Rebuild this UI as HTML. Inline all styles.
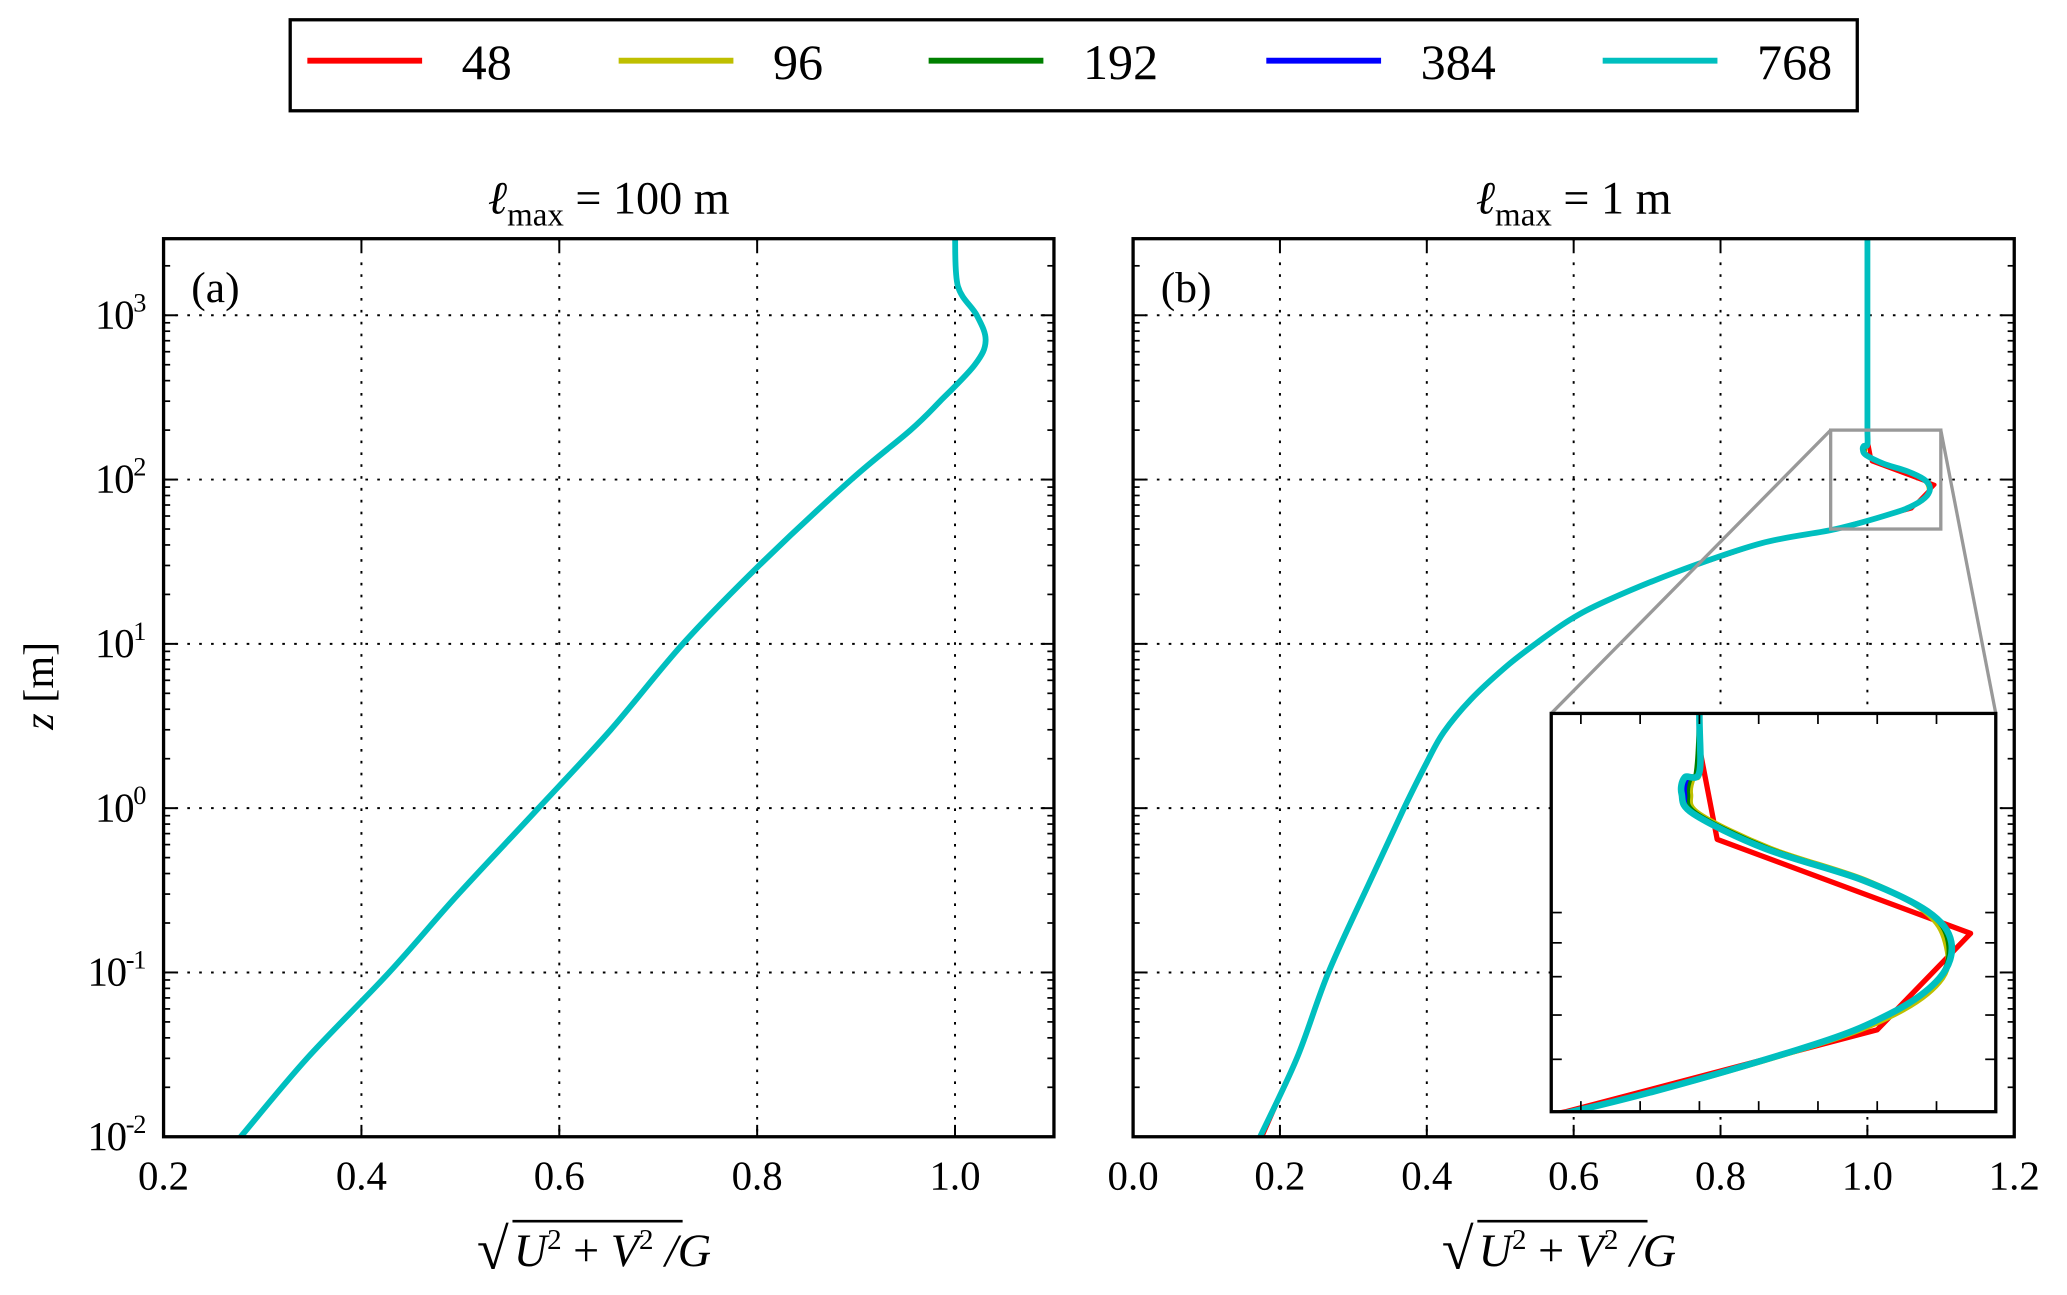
<!DOCTYPE html>
<html><head><meta charset="utf-8"><style>
html,body{margin:0;padding:0;background:#fff;overflow:hidden;width:2067px;height:1295px;}
svg{display:block;font-family:"Liberation Serif",serif;}
</style></head><body>
<svg id="fig" width="2067" height="1295" viewBox="0 0 1567 982" preserveAspectRatio="none" overflow="hidden" xmlns="http://www.w3.org/2000/svg">
<rect width="1567" height="982" fill="#fff"/>
<g id="legend"></g>
<g id="pa"></g>
<g id="pb"></g>
<g id="ins"></g>
</svg>
<script>
const seriesNames = ["48","96","192","384","768"];
const seriesColors = ["#ff0000","#bfbf00","#008000","#0000ff","#00bfbf"];
// Panel (a) data
const zA = [3000,1500,1000,700,500,300,200,100,30,10,3,1,0.3,0.1,0.03,0.01];
const xA = [1.0,1.003,1.022,1.031,1.02,0.985,0.955,0.895,0.802,0.725,0.652,0.579,0.498,0.428,0.345,0.278];
// Panel (b) data
const zB = [3000,1000,300,200,163,160,151,141,125,112,100.4,90.2,79.6,70.2,62,50,41,27.4,18.3,14,10,7.2,4.6,2.9,1.9,1,0.37,0.1,0.03,0.01];
const xB768 = [1.0,1.0,1.0,1.0,1.0,0.995,0.994,0.998,1.022,1.055,1.077,1.085,1.081,1.064,1.033,0.957,0.856,0.74,0.645,0.595,0.548,0.507,0.46,0.423,0.4,0.369,0.324,0.266,0.223,0.173];
const xB384 = [1.0,1.0,1.0,1.0,1.0,0.996,0.995,0.998,1.022,1.055,1.077,1.085,1.081,1.064,1.033,0.957,0.856,0.74,0.645,0.595,0.548,0.507,0.46,0.423,0.4,0.369,0.324,0.266,0.223,0.173];
const xB192 = [1.0,1.0,1.0,1.0,0.999,0.997,0.996,0.999,1.023,1.055,1.077,1.084,1.081,1.064,1.033,0.957,0.856,0.74,0.645,0.595,0.548,0.507,0.46,0.423,0.4,0.369,0.324,0.266,0.223,0.173];
const xB96 = [1.0,1.0,1.0,1.0,1.0,0.998,0.997,1.0,1.024,1.056,1.076,1.083,1.082,1.066,1.034,0.957,0.856,0.74,0.645,0.595,0.548,0.507,0.46,0.423,0.4,0.369,0.324,0.266,0.223,0.173];
const zB48 = [3000,178,129,93,66.5,50,41,27.4,18.3,14,10,7.2,4.6,2.9,1.9,1,0.37,0.1,0.03,0.01];
const xB48 = [1.0,1.0,1.006,1.0915,1.06,0.955,0.856,0.74,0.645,0.595,0.548,0.507,0.46,0.423,0.4,0.369,0.324,0.266,0.223,0.176];
const xTicksA = [0.2,0.4,0.6,0.8,1.0];
const xTicksB = [0.0,0.2,0.4,0.6,0.8,1.0,1.2];
const yDecades = [-2,-1,0,1,2,3];
const insetXTicks = [0.96,0.98,1.0,1.02,1.04,1.06,1.08];
const insetYTicks = [60,70,80,90,100];

const NS="http://www.w3.org/2000/svg";
function mk(parent,tag,attrs,text){const e=document.createElementNS(NS,tag);for(const k in attrs)e.setAttribute(k,attrs[k]);if(text!==undefined)e.textContent=text;parent.appendChild(e);return e;}
const svg=document.getElementById('fig');
const defs=mk(svg,'defs',{});

const lg=document.getElementById('legend');
const lb=mk(lg,'rect',{x:220,y:15,width:1188,height:69,fill:'#fff',stroke:'#000','stroke-width':2.5});


const legX=[233,469,704,960,1215];
seriesNames.forEach((n,i)=>{
  const g=mk(lg,'g',{});
  
  
  mk(g,'line',{x1:legX[i],x2:legX[i]+87,y1:46,y2:46,stroke:seriesColors[i],'stroke-width':4.5});
  mk(g,'text',{x:legX[i]+117,y:60,'font-size':38},n);
});

function makePanel(gid,box,xmin,xmax,xticks,ymin,ymax,title,tag,showY,clipId){
  const g=document.getElementById(gid);
  const sx=v=>box.l+(v-xmin)/(xmax-xmin)*(box.r-box.l);
  const sy=v=>box.b-(Math.log10(v)-Math.log10(ymin))/(Math.log10(ymax)-Math.log10(ymin))*(box.b-box.t);
  const cp=mk(defs,'clipPath',{id:clipId});mk(cp,'rect',{x:box.l,y:box.t,width:box.r-box.l,height:box.b-box.t});
  xticks.forEach(v=>{const x=sx(v);
    const gl=mk(g,'line',{x1:x,x2:x,y1:box.t,y2:box.b,stroke:'#000','stroke-width':1.5,'stroke-dasharray':'2,7'});
    
    
    mk(g,'line',{x1:x,x2:x,y1:box.b,y2:box.b-9,stroke:'#000','stroke-width':1.5});
    mk(g,'line',{x1:x,x2:x,y1:box.t,y2:box.t+9,stroke:'#000','stroke-width':1.5});
    const t=mk(g,'text',{x:x,y:box.b+40,'font-size':31,'text-anchor':'middle'},v.toFixed(1));
    
    
  });
  yDecades.forEach(d=>{const y=sy(Math.pow(10,d));
    if(d>-2){const gl=mk(g,'line',{x1:box.l,x2:box.r,y1:y,y2:y,stroke:'#000','stroke-width':1.5,'stroke-dasharray':'2,7'});
      
      }
    mk(g,'line',{x1:box.l,x2:box.l+10,y1:y,y2:y,stroke:'#000','stroke-width':1.5});
    mk(g,'line',{x1:box.r,x2:box.r-10,y1:y,y2:y,stroke:'#000','stroke-width':1.5});
    for(let m=2;m<10;m++){const v=m*Math.pow(10,d);if(v>ymax)break;const ym=sy(v);
      mk(g,'line',{x1:box.l,x2:box.l+5,y1:ym,y2:ym,stroke:'#000','stroke-width':1.3});
      mk(g,'line',{x1:box.r,x2:box.r-5,y1:ym,y2:ym,stroke:'#000','stroke-width':1.3});}
    if(showY){const t=mk(g,'text',{x:box.l-14,y:y+10,'font-size':31,'text-anchor':'end','letter-spacing':-1});
      
      
      mk(t,'tspan',{},'10');mk(t,'tspan',{dy:-13,'font-size':20},String(d));}
  });
  const tt=mk(g,'text',{x:(box.l+box.r)/2,y:162,'font-size':35,'text-anchor':'middle'});
  
  
  mk(tt,'tspan',{'font-style':'italic'},'ℓ');mk(tt,'tspan',{dy:9,'font-size':25},'max');mk(tt,'tspan',{dy:-9},' = '+title);
  const tg=mk(g,'text',{x:box.l+21,y:229,'font-size':33},tag);
  
  
  const cx=(box.l+box.r)/2;
  const xl=mk(g,'g',{});
  
  
  mk(xl,'text',{x:cx-100,y:962,'font-size':44},'√');
  mk(xl,'line',{x1:cx-73,x2:cx+56,y1:926,y2:926,stroke:'#000','stroke-width':2});
  const tx=mk(xl,'text',{x:cx-72,y:960,'font-size':35,'font-style':'italic'});
  mk(tx,'tspan',{},'U');mk(tx,'tspan',{dy:-13,'font-size':22,'font-style':'normal'},'2');
  mk(tx,'tspan',{dy:13,'font-style':'normal'},' + ');mk(tx,'tspan',{},'V');
  mk(tx,'tspan',{dy:-13,'font-size':22,'font-style':'normal'},'2');mk(tx,'tspan',{dy:13},' /G');
  return {g,sx,sy,box};
}

const A=makePanel('pa',{l:124,r:799,t:181,b:862},0.2,1.1,xTicksA,0.01,2925,'100 m','(a)',true,'ca');
const B=makePanel('pb',{l:859,r:1527,t:181,b:862},0.0,1.2,xTicksB,0.01,2925,'1 m','(b)',false,'cb');

const yl=mk(svg,'text',{x:40,y:520,'font-size':32,'text-anchor':'middle',transform:'rotate(-90 40 520)'});


mk(yl,'tspan',{'font-style':'italic'},'z');mk(yl,'tspan',{},' [m]');

function smoothPath(p){
  let d='M'+p[0][0].toFixed(1)+','+p[0][1].toFixed(1);
  for(let i=0;i<p.length-1;i++){
    const p0=p[i-1]||p[i],p1=p[i],p2=p[i+1],p3=p[i+2]||p2;
    const c1=[p1[0]+(p2[0]-p0[0])/6,p1[1]+(p2[1]-p0[1])/6];
    const c2=[p2[0]-(p3[0]-p1[0])/6,p2[1]-(p3[1]-p1[1])/6];
    d+=' C'+c1.map(v=>v.toFixed(1)).join(',')+' '+c2.map(v=>v.toFixed(1)).join(',')+' '+p2.map(v=>v.toFixed(1)).join(',');
  }
  return d;
}
function drawLine(P,xs,zs,color,w,name,clip,smooth){
  const p=xs.map((x,i)=>[P.sx(x),P.sy(zs[i])]);
  const d=smooth?smoothPath(p):'M'+p.map(q=>q[0].toFixed(1)+','+q[1].toFixed(1)).join(' L');
  const pl=mk(P.g,'path',{d:d,fill:'none',stroke:color,'stroke-width':w,'stroke-linejoin':'round','stroke-linecap':'round','clip-path':'url(#'+clip+')'});
  
  
}
const xAs=[xA,xA,xA,xA,xA];
xAs.forEach((xs,i)=>drawLine(A,xs,zA,seriesColors[i],i==4?4.4:3,'line-a-'+seriesNames[i],'ca',true));
const bX=[xB48,xB96,xB192,xB384,xB768];
const bZ=[zB48,zB,zB,zB,zB];
bX.forEach((xs,i)=>drawLine(B,xs,bZ[i],seriesColors[i],i==4?4.4:3,'line-b-'+seriesNames[i],'cb',i>0));

const zr={x0:B.sx(0.95),x1:B.sx(1.1),y0:B.sy(200),y1:B.sy(50)};
const ib={l:1176,r:1513,t:541,b:843};
const zg=mk(B.g,'g',{});


mk(zg,'rect',{x:zr.x0,y:zr.y0,width:zr.x1-zr.x0,height:zr.y1-zr.y0,fill:'none',stroke:'#999','stroke-width':2.5});
mk(zg,'line',{x1:zr.x0,y1:zr.y0,x2:ib.l,y2:ib.t,stroke:'#999','stroke-width':2.5});
mk(zg,'line',{x1:zr.x1,y1:zr.y0,x2:ib.r,y2:ib.t,stroke:'#999','stroke-width':2.5});

const ig=document.getElementById('ins');
const I={g:ig,box:ib,
  sx:v=>ib.l+(v-0.95)/(0.15)*(ib.r-ib.l),
  sy:v=>ib.b-(Math.log10(v)-Math.log10(50))/(Math.log10(200)-Math.log10(50))*(ib.b-ib.t)};
const cpi=mk(defs,'clipPath',{id:'ci'});
mk(cpi,'rect',{x:ib.l,y:ib.t,width:ib.r-ib.l,height:ib.b-ib.t});
mk(ig,'rect',{x:ib.l,y:ib.t,width:ib.r-ib.l,height:ib.b-ib.t,fill:'#fff'});
bX.forEach((xs,i)=>drawLine(I,xs,bZ[i],seriesColors[i],i==4?5:4,'inset-line-'+seriesNames[i],'ci',i>0));
insetXTicks.forEach(v=>{const x=I.sx(v);
  mk(ig,'line',{x1:x,x2:x,y1:ib.b,y2:ib.b-8,stroke:'#000','stroke-width':1.3});
  mk(ig,'line',{x1:x,x2:x,y1:ib.t,y2:ib.t+8,stroke:'#000','stroke-width':1.3});});
insetYTicks.forEach(v=>{const y=I.sy(v);
  mk(ig,'line',{x1:ib.l,x2:ib.l+8,y1:y,y2:y,stroke:'#000','stroke-width':1.3});
  mk(ig,'line',{x1:ib.r,x2:ib.r-8,y1:y,y2:y,stroke:'#000','stroke-width':1.3});});
const ibx=mk(ig,'rect',{x:ib.l,y:ib.t,width:ib.r-ib.l,height:ib.b-ib.t,fill:'none',stroke:'#000','stroke-width':2.5});



[A,B].forEach(P=>{const r=mk(P.g,'rect',{x:P.box.l,y:P.box.t,width:P.box.r-P.box.l,height:P.box.b-P.box.t,fill:'none',stroke:'#000','stroke-width':2.5});
  
  });
</script>
</body></html>
